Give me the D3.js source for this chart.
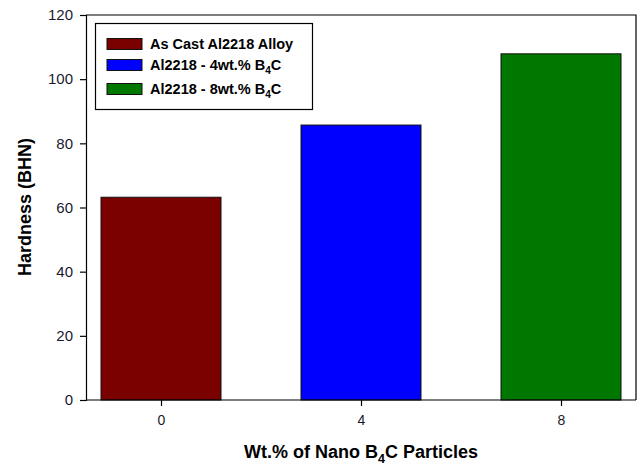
<!DOCTYPE html>
<html>
<head>
<meta charset="utf-8">
<script src="https://cdn.jsdelivr.net/npm/d3@7"></script>
<style>
  html, body { margin: 0; padding: 0; background: #fff; }
  svg { display: block; font-family: Arial, "Liberation Sans", sans-serif; }
</style>
</head>
<body>
<svg id="chart" width="643" height="468"></svg>
<script>
// Hardness of Al2218 alloy with nano B4C additions
const wtPercent = [0, 4, 8];
const hardness = [63.2, 85.7, 107.9];
const seriesNames = ["As Cast Al2218 Alloy", "Al2218 - 4wt.% B4C", "Al2218 - 8wt.% B4C"];
const barColors = ["#7b0000", "#0000ff", "#007800"];
const yTicks = [0, 20, 40, 60, 80, 100, 120];

const svg = d3.select("#chart");
const plotLeft = 86, plotRight = 636, plotTop = 15, plotBottom = 400;

const x = d3.scaleLinear().domain([-1.5, 9.5]).range([plotLeft, plotRight]);
const y = d3.scaleLinear().domain([0, 120]).range([plotBottom, plotTop]);
const barWidth = 2.4; // in x-units

// bars
svg.append("g").selectAll("rect")
  .data(hardness)
  .join("rect")
  .attr("x", (d, i) => x(wtPercent[i] - barWidth / 2))
  .attr("width", (d, i) => x(wtPercent[i] + barWidth / 2) - x(wtPercent[i] - barWidth / 2))
  .attr("y", d => y(d))
  .attr("height", d => y(0) - y(d))
  .attr("fill", (d, i) => barColors[i])
  .attr("stroke", "#111")
  .attr("stroke-width", 1);

// frame (top and right)
svg.append("path")
  .attr("d", `M${plotLeft},${plotTop}H${plotRight}V${plotBottom}`)
  .attr("fill", "none").attr("stroke", "#000").attr("stroke-width", 1.2);

// y axis
const yAxis = svg.append("g")
  .attr("transform", `translate(${plotLeft},0)`)
  .call(d3.axisLeft(y).tickValues(yTicks).tickSize(6).tickPadding(7).tickFormat(d3.format("d")));
yAxis.selectAll("text").attr("font-size", 15).attr("fill", "#1a1a2e").attr("font-family", "Arial, 'Liberation Sans', sans-serif");
yAxis.selectAll("line, path").attr("stroke", "#000").attr("stroke-width", 1.2);

// x axis
const xAxis = svg.append("g")
  .attr("transform", `translate(0,${plotBottom})`)
  .call(d3.axisBottom(x).tickValues(wtPercent).tickSize(6).tickPadding(9).tickFormat(d3.format("d")));
xAxis.select(".domain").attr("d", `M${plotLeft},0H${plotRight}`);
xAxis.selectAll("text").attr("font-size", 14).attr("fill", "#1a1a2e").attr("font-family", "Arial, 'Liberation Sans', sans-serif");
xAxis.selectAll("line, path").attr("stroke", "#000").attr("stroke-width", 1.2);

// axis titles
const xTitle = svg.append("text")
  .attr("x", x(4)).attr("y", 458)
  .attr("text-anchor", "middle")
  .attr("font-size", 18).attr("font-weight", "bold").attr("fill", "#000");
xTitle.append("tspan").text("Wt.% of Nano B");
xTitle.append("tspan").text("4").attr("font-size", 12.5).attr("dy", 5);
xTitle.append("tspan").text("C Particles").attr("dy", -5);

svg.append("text")
  .attr("transform", `translate(31,207) rotate(-90)`)
  .attr("text-anchor", "middle")
  .attr("font-size", 18).attr("font-weight", "bold").attr("fill", "#000")
  .text("Hardness (BHN)");

// legend
const legend = svg.append("g");
legend.append("rect")
  .attr("x", 95.5).attr("y", 23.5).attr("width", 217).attr("height", 86)
  .attr("fill", "#fff").attr("stroke", "#000").attr("stroke-width", 1.2);

const rowY = [38.5, 59.5, 83.5];
seriesNames.forEach((name, i) => {
  legend.append("rect")
    .attr("x", 107).attr("y", rowY[i]).attr("width", 35).attr("height", 11)
    .attr("fill", barColors[i]).attr("stroke", "#111").attr("stroke-width", 1);
  const t = legend.append("text")
    .attr("x", 150).attr("y", rowY[i] + 10)
    .attr("font-size", 14.5).attr("font-weight", "bold").attr("fill", "#000");
  const m = name.match(/^(.*B)(4)(C)$/);
  if (m) {
    t.append("tspan").text(m[1]);
    t.append("tspan").text(m[2]).attr("font-size", 10).attr("dy", 4);
    t.append("tspan").text(m[3]).attr("dy", -4);
  } else {
    t.text(name);
  }
});
</script>
</body>
</html>
